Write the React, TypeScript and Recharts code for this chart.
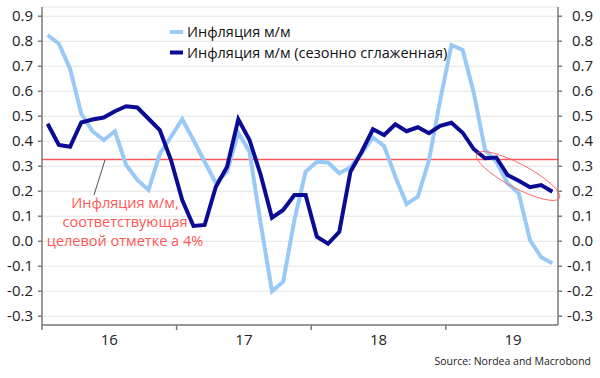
import { LineChart, Line, XAxis, YAxis, CartesianGrid, ReferenceLine } from 'recharts'

// monthly, Jan 2016 .. Oct 2019
const years = ['16', '17', '18', '19']

const inflationMoM = [
  0.825, 0.79, 0.69, 0.51, 0.44, 0.405, 0.44, 0.305, 0.245, 0.205, 0.35, 0.418,
  0.488, 0.405, 0.318, 0.232, 0.278, 0.434, 0.358, 0.07, -0.2, -0.162, 0.085, 0.278,
  0.318, 0.315, 0.272, 0.296, 0.352, 0.415, 0.381, 0.258, 0.149, 0.178, 0.325, 0.565,
  0.785, 0.765, 0.592, 0.365, 0.318, 0.232, 0.192, 0.005, -0.064, -0.088,
]

const inflationSA = [
  0.47, 0.385, 0.378, 0.475, 0.487, 0.495, 0.52, 0.54, 0.535, 0.49, 0.445, 0.325,
  0.165, 0.061, 0.065, 0.218, 0.298, 0.488, 0.405, 0.265, 0.094, 0.125, 0.185, 0.185,
  0.018, -0.01, 0.038, 0.278, 0.358, 0.448, 0.425, 0.468, 0.44, 0.456, 0.432, 0.462,
  0.474, 0.434, 0.368, 0.332, 0.335, 0.265, 0.242, 0.216, 0.225, 0.198,
]

const yTicks = [-0.3, -0.2, -0.1, 0, 0.1, 0.2, 0.3, 0.4, 0.5, 0.6, 0.7, 0.8, 0.9]
const xTicks = [0, 6, 12, 18, 24, 30, 36, 42]
const targetMoM = 0.327

const seriesNames = ['Инфляция м/м', 'Инфляция м/м (сезонно сглаженная)']
const annotation = ['Инфляция м/м,', 'соответствующая', 'целевой отметке а 4%']

const LIGHT = '#99c9f7'
const DARK = '#0b0b94'
const RED = '#ff5757'
const AXIS = '#7a7a7a'
const FONT = '"Open Sans", "Noto Sans", sans-serif'

const data = inflationMoM.map((v, i) => ({ x: i + 0.5, mom: v, sa: inflationSA[i] }))

const XTick = (props: any) => {
  const { x, y, payload } = props
  const v = payload.value
  if (v % 12 === 0) {
    return <line x1={x} x2={x} y1={y} y2={y + 5} stroke={AXIS} strokeWidth={1.5} />
  }
  return (
    <text x={x} y={y + 20} textAnchor="middle" fontSize={15} fill="#222" fontFamily={FONT}>
      {years[Math.floor(v / 12)]}
    </text>
  )
}

const LeftTick = (props: any) => {
  const { x, y, payload } = props
  return (
    <text x={x} y={y + 5} textAnchor="end" fontSize={15} fill="#222" fontFamily={FONT}>
      {payload.value.toFixed(1)}
    </text>
  )
}

const RightTick = (props: any) => {
  const { y, payload } = props
  return (
    <text x={593} y={y + 5} textAnchor="end" fontSize={15} fill="#222" fontFamily={FONT}>
      {payload.value.toFixed(1)}
    </text>
  )
}

export default function App() {
  return (
    <div style={{ position: 'absolute', left: 0, top: 0, width: 600, height: 378, background: '#fff' }}>
      <LineChart width={600} height={378} data={data} margin={{ top: 7, right: 0, bottom: 0, left: 0 }}>
        <CartesianGrid yAxisId="left" vertical={false} stroke="#e4e4e4" strokeWidth={1.2} />
        <XAxis
          dataKey="x"
          type="number"
          domain={[0, 46]}
          ticks={xTicks}
          interval={0}
          height={53}
          tickSize={0}
          tickMargin={0}
          tick={<XTick />}
          stroke={AXIS}
          strokeWidth={1.5}
        />
        <YAxis
          yAxisId="left"
          type="number"
          domain={[-0.335, 0.937]}
          allowDataOverflow
          ticks={yTicks}
          interval={0}
          width={42}
          tickSize={4}
          tickMargin={5}
          tick={<LeftTick />}
          stroke={AXIS}
          strokeWidth={1.5}
        />
        <YAxis
          yAxisId="right"
          orientation="right"
          type="number"
          domain={[-0.335, 0.937]}
          allowDataOverflow
          ticks={yTicks}
          interval={0}
          width={42}
          tickSize={4}
          tickMargin={5}
          tick={<RightTick />}
          stroke={AXIS}
          strokeWidth={1.5}
        />
        <ReferenceLine yAxisId="left" y={targetMoM} stroke={RED} strokeWidth={1.3} />
        <Line
          yAxisId="left"
          dataKey="mom"
          stroke={LIGHT}
          strokeWidth={4}
          dot={false}
          type="linear"
          isAnimationActive={false}
        />
        <Line
          yAxisId="left"
          dataKey="sa"
          stroke={DARK}
          strokeWidth={4}
          dot={false}
          type="linear"
          isAnimationActive={false}
        />
      </LineChart>
      <svg
        width={600}
        height={378}
        style={{ position: 'absolute', left: 0, top: 0, pointerEvents: 'none' }}
        fontFamily={FONT}
      >
        <line x1={170} x2={183} y1={32} y2={32} stroke={LIGHT} strokeWidth={4} />
        <text x={187} y={37} fontSize={14.5} fill="#111">{seriesNames[0]}</text>
        <line x1={170} x2={183} y1={52.5} y2={52.5} stroke={DARK} strokeWidth={4} />
        <text x={187} y={57.5} fontSize={14.5} fill="#111">{seriesNames[1]}</text>

        <line x1={105} y1={160} x2={94} y2={195} stroke="#222" strokeWidth={0.8} />
        {annotation.map((t, i) => (
          <text key={i} x={125} y={208 + i * 19} textAnchor="middle" fontSize={14.5} fill={RED}>
            {t}
          </text>
        ))}

        <ellipse
          cx={518}
          cy={176}
          rx={47}
          ry={12}
          transform="rotate(28 518 176)"
          fill="none"
          stroke={RED}
          strokeWidth={0.8}
        />

        <text x={591} y={365} textAnchor="end" fontSize={10.5} fill="#222">
          Source: Nordea and Macrobond
        </text>
      </svg>
    </div>
  )
}
